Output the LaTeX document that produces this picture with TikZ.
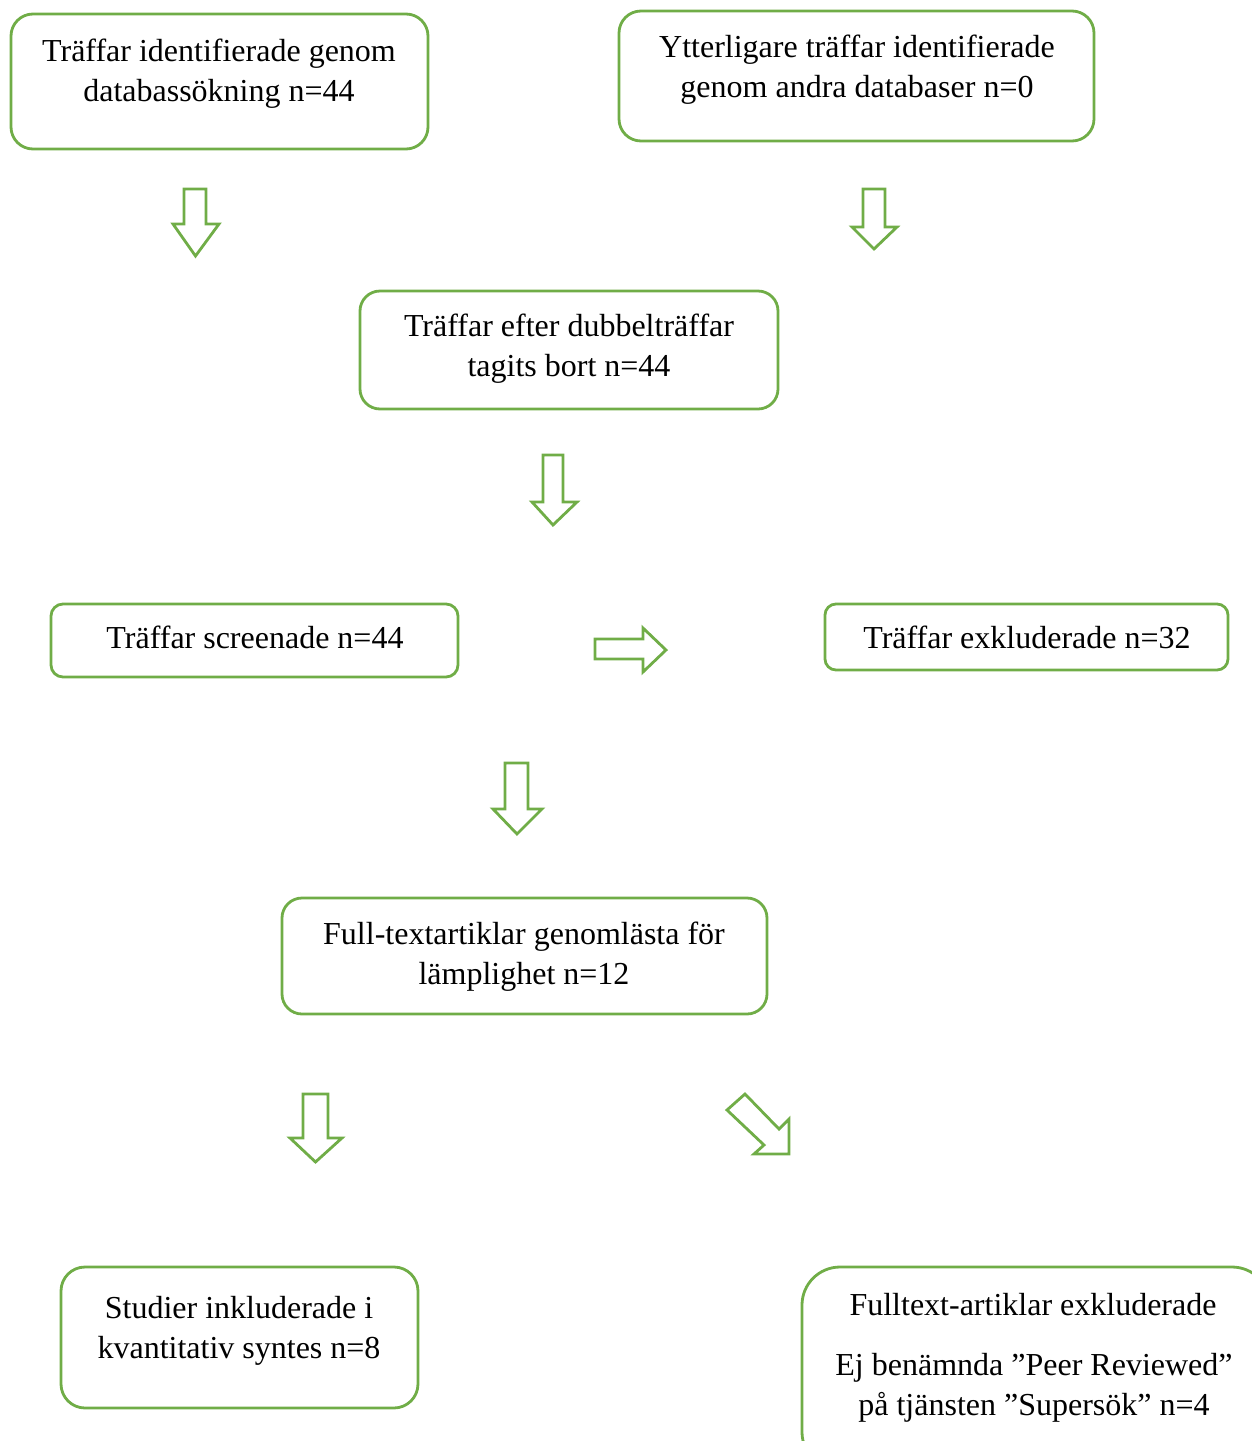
\documentclass[tikz,border=0pt]{standalone}
\usepackage{fontspec}
\setmainfont{Liberation Serif}
\definecolor{boxgreen}{HTML}{70AD47}
\tikzset{
  box/.style={draw=boxgreen, line width=1.4pt, rectangle, inner sep=0pt},
  txt/.style={anchor=base, inner sep=0pt, font=\fontsize{16}{20}\selectfont},
  blockarrow/.style={draw=boxgreen, line width=1.4pt, line join=miter, fill=white}
}
\begin{document}
\begin{tikzpicture}[x=0.5pt,y=-0.5pt]
\useasboundingbox (0,0) rectangle (1252,1441);
\begin{scope}
\clip (0,0) rectangle (1252,1441);
% boxes
\node[box, minimum width=208.5pt, minimum height=67.5pt, rounded corners=11pt] (A) at (219.5,81.5) {};
\node[box, minimum width=237.5pt, minimum height=65pt, rounded corners=11pt] (B) at (856.5,76) {};
\node[box, minimum width=209pt, minimum height=59pt, rounded corners=10pt] (C) at (569,350) {};
\node[box, minimum width=203.5pt, minimum height=36.5pt, rounded corners=6pt] (D) at (254.5,640.5) {};
\node[box, minimum width=201.5pt, minimum height=33pt, rounded corners=5.5pt] (E) at (1026.5,637) {};
\node[box, minimum width=242.5pt, minimum height=58pt, rounded corners=10pt] (F) at (524.5,956) {};
\node[box, minimum width=178.5pt, minimum height=70.5pt, rounded corners=12pt] (G) at (239.5,1337.5) {};
\node[box, minimum width=234pt, minimum height=101.5pt, rounded corners=19pt] (H) at (1036,1368.5) {};
% texts
\node[txt] (a1) at (219,61) {Träffar identifierade genom};
\node[txt] (a2) at (219,101) {databassökning n=44};
\node[txt] (b1) at (857,57) {Ytterligare träffar identifierade};
\node[txt] (b2) at (857,97) {genom andra databaser n=0};
\node[txt] (c1) at (569,336) {Träffar efter dubbelträffar};
\node[txt] (c2) at (569,376) {tagits bort n=44};
\node[txt] (d1) at (255,648) {Träffar screenade n=44};
\node[txt] (e1) at (1027,648) {Träffar exkluderade n=32};
\node[txt] (f1) at (524,944) {Full-textartiklar genomlästa för};
\node[txt] (f2) at (524,984) {lämplighet n=12};
\node[txt] (g1) at (239,1318) {Studier inkluderade i};
\node[txt] (g2) at (239,1358) {kvantitativ syntes n=8};
\node[txt] (h1) at (1033,1315) {Fulltext-artiklar exkluderade};
\node[txt] (h2) at (1034,1375) {Ej benämnda ”Peer Reviewed”};
\node[txt] (h3) at (1034,1415) {på tjänsten ”Supersök” n=4};
% block arrows (down)
\draw[blockarrow] (184,189) -- (206,189) -- (206,224) -- (219,224) -- (195.5,256) -- (173,224) -- (184,224) -- cycle;
\draw[blockarrow] (863,189) -- (885,189) -- (885,227) -- (897,227) -- (874,249) -- (852,227) -- (863,227) -- cycle;
\draw[blockarrow] (543,455) -- (563,455) -- (563,502) -- (577,502) -- (553,525) -- (532,502) -- (543,502) -- cycle;
\draw[blockarrow] (505,763) -- (528,763) -- (528,809) -- (542,809) -- (517,834) -- (493,809) -- (505,809) -- cycle;
\draw[blockarrow] (303,1094) -- (328,1094) -- (328,1138) -- (342,1138) -- (315.5,1162) -- (290,1138) -- (303,1138) -- cycle;
% right arrow
\draw[blockarrow] (595,639) -- (643,639) -- (643,628) -- (666,650) -- (643,672) -- (643,659) -- (595,659) -- cycle;
% diagonal arrow
\draw[blockarrow] (727,1110) -- (745,1094) -- (779,1129) -- (789,1119) -- (789,1154) -- (754,1154) -- (764,1145) -- cycle;
\end{scope}
\end{tikzpicture}
\end{document}
